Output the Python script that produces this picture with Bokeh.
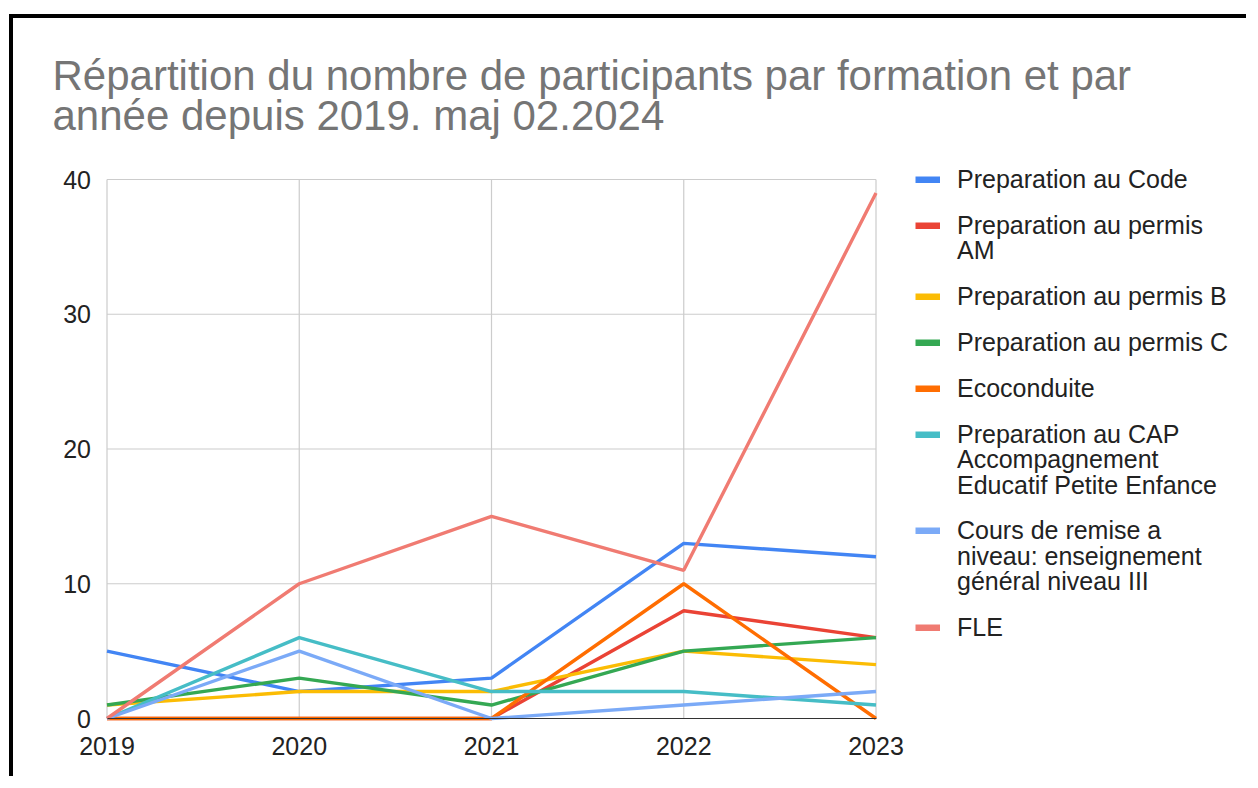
from bokeh.plotting import figure
from bokeh.models import Legend, LegendItem, Label, FixedTicker, Range1d
from bokeh.embed import file_html
from bokeh.resources import INLINE

# ---- data ----
years = [2019, 2020, 2021, 2022, 2023]
series_names = [
    "Preparation au Code",
    "Preparation au permis\nAM",
    "Preparation au permis B",
    "Preparation au permis C",
    "Ecoconduite",
    "Preparation au CAP\nAccompagnement\nEducatif Petite Enfance",
    "Cours de remise a\nniveau: enseignement\ngénéral niveau III",
    "FLE",
]
code = [5, 2, 3, 13, 12]
permis_am = [0, 0, 0, 8, 6]
permis_b = [1, 2, 2, 5, 4]
permis_c = [1, 3, 1, 5, 6]
ecoconduite = [0, 0, 0, 10, 0]
cap_aepe = [0, 6, 2, 2, 1]
remise_niveau = [0, 5, 0, 1, 2]
fle = [0, 10, 15, 11, 39]
y_ticks = [0, 10, 20, 30, 40]
title_lines = [
    "Répartition du nombre de participants par formation et par",
    "année depuis 2019. maj 02.2024",
]
colors = ["#4285F4", "#EA4335", "#FBBC04", "#34A853", "#FF6D01",
          "#46BDC6", "#7BAAF7", "#F07B72"]
all_series = [code, permis_am, permis_b, permis_c, ecoconduite,
              cap_aepe, remise_niveau, fle]

FONT = "Liberation Sans"

# ---- layout (pixels inside the canvas) ----
W, H = 1237, 762
PX_LEFT, PX_RIGHT = 93.5, 862.5      # plot area left / right
PX_TOP, PX_BOTTOM = 161.0, 700.0     # plot area top / bottom (from top)
LEG_X = 902                          # legend swatch left
LEG_FIRST = 161.5                    # centre of first legend line (from top)
ITEM_GAP, LINE_PITCH, ROW_H = 45.8, 25.5, 30

x0, x1 = min(years), max(years)
y0, y1 = min(y_ticks), max(y_ticks)
sx = (PX_RIGHT - PX_LEFT) / (x1 - x0)
sy = (PX_BOTTOM - PX_TOP) / (y1 - y0)
x_range = Range1d(x0 - PX_LEFT / sx, x1 + (W - PX_RIGHT) / sx)
y_range = Range1d(y0 - (H - PX_BOTTOM) / sy, y1 + PX_TOP / sy)

p = figure(
    width=W, height=H, x_range=x_range, y_range=y_range,
    output_backend="svg", toolbar_location=None,
    min_border=0, min_border_left=0, min_border_right=0,
    min_border_top=0, min_border_bottom=0,
    background_fill_color="white", border_fill_color="white",
    outline_line_color=None,
    styles={"margin-left": "9px", "margin-top": "14px",
            "border-left": "4px solid #000", "border-top": "4px solid #000"},
)
p.grid.visible = False

# grid lines limited to the plot area
p.segment(x0=years, y0=[y0] * len(years), x1=years, y1=[y1] * len(years),
          line_color="#cccccc", line_width=1.2)
p.segment(x0=[x0] * len(y_ticks), y0=y_ticks, x1=[x1] * len(y_ticks), y1=y_ticks,
          line_color="#cccccc", line_width=1.2)

# axes placed at the plot area edges
p.xaxis.fixed_location = y0
p.yaxis.fixed_location = x0
p.xaxis.bounds = (x0, x1)
p.xaxis.ticker = FixedTicker(ticks=years)
p.yaxis.ticker = FixedTicker(ticks=y_ticks)
for ax in (p.xaxis[0], p.yaxis[0]):
    ax.major_tick_line_color = None
    ax.minor_tick_line_color = None
    ax.major_label_text_font = FONT
    ax.major_label_text_font_size = "25px"
    ax.major_label_text_color = "#222222"
p.xaxis.axis_line_color = "#333333"
p.yaxis.axis_line_color = None
p.xaxis.major_label_standoff = 12
p.yaxis.major_label_standoff = 10

# series
for vals, c in zip(all_series, colors):
    p.line(years, vals, line_color=c, line_width=3.4)

# legend: one small legend per text line so the swatch sits on the first line
blank = p.line(years, code, line_alpha=0, visible=False)
cy = LEG_FIRST
for name, vals, c in zip(series_names, all_series, colors):
    swatch = p.line(years, vals, line_color=c, line_width=7, visible=False)
    lines = name.split("\n")
    for j, txt in enumerate(lines):
        rend = swatch if j == 0 else blank
        lg = Legend(
            items=[LegendItem(label=txt, renderers=[rend])],
            location=(LEG_X, H - (cy + j * LINE_PITCH) - ROW_H / 2),
            label_text_font=FONT, label_text_font_size="25px",
            label_text_color="#222222", label_height=ROW_H,
            glyph_width=25, glyph_height=7, label_standoff=17,
            spacing=0, padding=0, margin=0,
            border_line_alpha=0, background_fill_alpha=0,
        )
        p.add_layout(lg, "center")
    cy += ITEM_GAP + (len(lines) - 1) * LINE_PITCH

# title
for i, t in enumerate(title_lines):
    p.add_layout(Label(
        x=39, y=H - 57 - 40 * i, x_units="screen", y_units="screen",
        text=t, text_font=FONT, text_font_size="42px",
        text_color="#757575", text_baseline="alphabetic",
    ))

open("out.html", "w").write(file_html(p, INLINE))
